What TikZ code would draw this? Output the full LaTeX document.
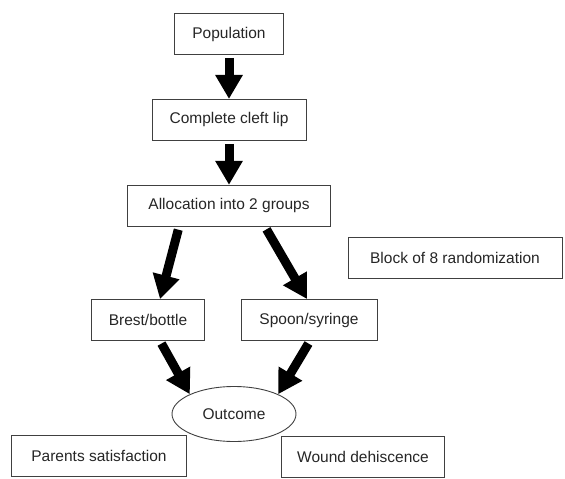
\documentclass[tikz,border=0pt]{standalone}
\usepackage{fontspec}
\setmainfont{Liberation Sans}
\usetikzlibrary{arrows.meta,shapes.geometric,positioning}

\begin{document}
\begin{tikzpicture}[x=1pt,y=-1pt,node distance=44pt,
	box/.style={draw=black!75,line width=0.9pt,rectangle,fill=white,minimum height=41pt,inner sep=0pt,font=\fontsize{15.5}{18}\selectfont,text=black!85},
	bigarrow/.style={line width=9pt,-{Triangle[length=24pt,width=26pt]},shorten <=3pt}]
	
	\useasboundingbox (0,0) rectangle (565,479);
	
	% main chain
	\node[box,minimum width=109pt] (pop) at (229,34) {Population};
	\node[box,minimum width=154pt,below=of pop] (cleft) {Complete cleft lip};
	\node[box,minimum width=203pt,below=of cleft] (alloc) {Allocation into 2 groups};
	
	% randomization note
	\node[box,minimum width=214pt] (block) at (455,258) {Block of 8 randomization};
	
	% the two groups
	\node[box,minimum width=113pt] (brest) at (148,320) {Brest/bottle};
	\node[box,minimum width=136pt] (spoon) at (309,320) {Spoon/syringe};
	
	% outcome
	\node[draw=black!75,line width=0.9pt,ellipse,minimum width=124pt,minimum height=55pt,inner sep=0pt,font=\fontsize{15.5}{18}\selectfont,text=black!85] (outcome) at (234,414) {Outcome};
	\node[box,minimum width=175pt] (parents) at (99,456) {Parents satisfaction};
	\node[box,minimum width=163pt] (wound) at (363,457) {Wound dehiscence};
	
	% arrows
	\draw[bigarrow] (pop) -- (cleft);
	\draw[bigarrow] (cleft) -- (alloc);
	\draw[bigarrow] ([xshift=-50pt]alloc.south) -- ([xshift=12pt]brest.north);
	\draw[bigarrow] ([xshift=36pt]alloc.south) -- ([xshift=-2pt]spoon.north);
	\draw[bigarrow] ([xshift=12pt]brest.south) -- (outcome.north west);
	\draw[bigarrow] ([xshift=1pt]spoon.south) -- (outcome.north east);
	
\end{tikzpicture}
\end{document}
